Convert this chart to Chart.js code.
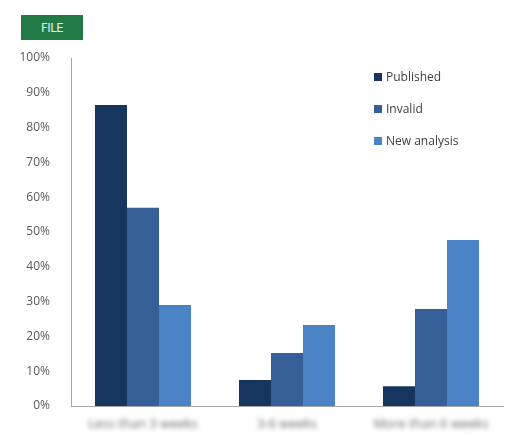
<!DOCTYPE html>
<html>
<head>
<meta charset="utf-8">
<script src="https://cdn.jsdelivr.net/npm/chart.js@4"></script>
<style>
  html, body { margin: 0; padding: 0; background: #fff; }
  #wrap { position: relative; width: 507px; height: 435px; }
  #badge {
    position: absolute; left: 21px; top: 15px; width: 62px; height: 25px;
    background: #217a46; color: #e8f5ec; font: 13px "DejaVu Sans Condensed", "DejaVu Sans", sans-serif;
    line-height: 25px; text-align: center; letter-spacing: -0.5px;
  }
</style>
</head>
<body>
<div id="wrap">
  <canvas id="chart" width="507" height="435"></canvas>
  <div id="badge">FILE</div>
</div>
<script>
const categories = ["Less than 3 weeks", "3-6 weeks", "More than 6 weeks"];
const published = [86.5, 7.5, 5.7];
const invalid = [57, 15.2, 27.9];
const newAnalysis = [29, 23.3, 47.7];
const yTicks = [0, 10, 20, 30, 40, 50, 60, 70, 80, 90, 100];

// legend drawn inside the plot, top right
const insideLegend = {
  id: "insideLegend",
  afterDraw(chart) {
    const ctx = chart.ctx;
    ctx.save();
    ctx.font = "12px 'Open Sans', sans-serif";
    ctx.textBaseline = "middle";
    chart.data.datasets.forEach((ds, i) => {
      const y = 77 + i * 32;
      ctx.fillStyle = ds.backgroundColor;
      ctx.fillRect(374, y - 4, 8, 8);
      ctx.fillStyle = "#404040";
      ctx.fillText(ds.label, 386, y + 1);
    });
    ctx.restore();
  },
};

// category labels are blurred in the source picture
const blurredLabels = {
  id: "blurredLabels",
  afterDraw(chart) {
    const ctx = chart.ctx;
    const x = chart.scales.x;
    ctx.save();
    ctx.filter = "blur(2.5px)";
    ctx.font = "13px 'Open Sans', sans-serif";
    ctx.fillStyle = "#666";
    ctx.textAlign = "center";
    ctx.textBaseline = "middle";
    chart.data.labels.forEach((lab, i) => {
      ctx.fillText(lab, x.getPixelForValue(i), 424);
    });
    ctx.restore();
  },
};

new Chart(document.getElementById("chart"), {
  type: "bar",
  data: {
    labels: categories,
    datasets: [
      { label: "Published", data: published, backgroundColor: "#17365f" },
      { label: "Invalid", data: invalid, backgroundColor: "#365f97" },
      { label: "New analysis", data: newAnalysis, backgroundColor: "#4a84c5" },
    ],
  },
  options: {
    responsive: false,
    animation: false,
    layout: { padding: { top: 58, right: 4, left: 0, bottom: 0 } },
    datasets: { bar: { categoryPercentage: 0.667, barPercentage: 1 } },
    plugins: { legend: { display: false }, tooltip: { enabled: false } },
    scales: {
      x: {
        grid: { display: false },
        border: { color: "#a6a6a6", width: 1 },
        ticks: { display: false },
        afterFit: (s) => { s.height = 29; },
      },
      y: {
        min: 0,
        max: 100,
        afterBuildTicks: (s) => { s.ticks = yTicks.map((v) => ({ value: v })); },
        grid: { display: false },
        border: { color: "#a6a6a6", width: 1 },
        ticks: {
          padding: 13,
          color: "#595959",
          font: { size: 12, family: "'Open Sans', sans-serif" },
          callback: (v) => v + "%",
        },
        afterFit: (s) => { s.width = 71; },
      },
    },
  },
  plugins: [insideLegend, blurredLabels],
});
</script>
</body>
</html>
